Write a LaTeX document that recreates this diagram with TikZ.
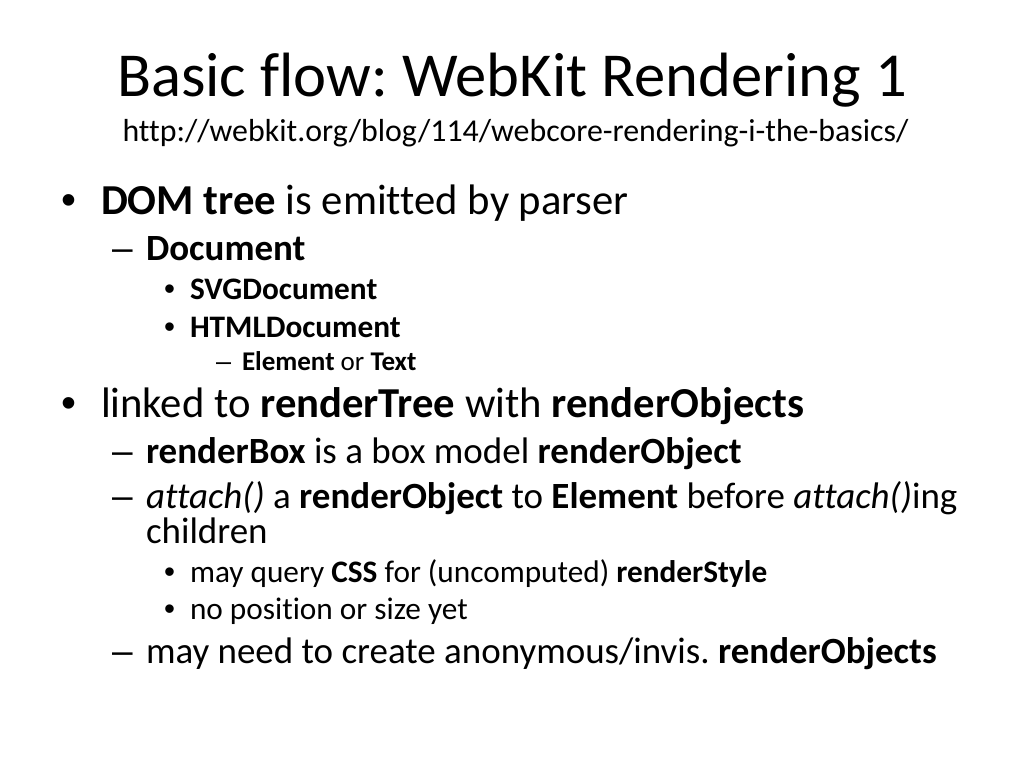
\documentclass[tikz,border=0pt]{standalone}
\usepackage{fontspec}
\setmainfont[Ligatures=NoCommon]{Carlito}
\newfontfamily\bulfont{Liberation Sans}
\begin{document}
\frenchspacing
\begin{tikzpicture}[x=0.703125pt,y=-0.703125pt,
  txt/.style={anchor=base west, inner sep=0pt, outer sep=0pt},
  ttl/.style={anchor=base, inner sep=0pt, font=\fontsize{44}{50}\selectfont},
  url/.style={anchor=base, inner sep=0pt, font=\fontsize{22.4}{26}\selectfont},
  lone/.style={txt, font=\fontsize{30}{36}\selectfont},
  ltwo/.style={txt, font=\fontsize{26}{31}\selectfont},
  lthree/.style={txt, font=\fontsize{22}{26}\selectfont},
  lfour/.style={txt, font=\fontsize{19}{23}\selectfont},
  bone/.style={txt, font=\bulfont\fontsize{30}{36}\selectfont},
  btwo/.style={txt, font=\bulfont\fontsize{26}{31}\selectfont},
  bthree/.style={txt, font=\bulfont\fontsize{22}{26}\selectfont},
  bfour/.style={txt, font=\bulfont\fontsize{19}{23}\selectfont}]
\useasboundingbox (0,0) rectangle (1024,768);
\fill[white] (0,0) rectangle (1024,768);
\node[ttl] (title) at (512,97) {Basic flow: WebKit Rendering 1};
\node[url] (link) at (515.5,142) {http://webkit.org/blog/114/webcore-rendering-i-the-basics/};
% level 1
\node[bone] (b1) at (61,215) {•};
\node[lone] (t1) at (101,215) {\textbf{DOM tree} is emitted by parser};
\node[btwo] (b2) at (112,261) {–};
\node[ltwo] (t2) at (146,261) {\textbf{Document}};
\node[bthree] (b3) at (164,299) {•};
\node[lthree] (t3) at (190,299) {\textbf{SVGDocument}};
\node[bthree] (b4) at (164,337) {•};
\node[lthree] (t4) at (190,337) {\textbf{HTMLDocument}};
\node[bfour] (b5) at (216,370) {–};
\node[lfour] (t5) at (242,370) {\textbf{Element} or \textbf{Text}};
% level 1 second
\node[bone] (b6) at (61,417) {•};
\node[lone] (t6) at (101,417) {linked to \textbf{renderTree} with \textbf{renderObjects}};
\node[btwo] (b7) at (112,463) {–};
\node[ltwo] (t7) at (146,463) {\textbf{renderBox} is a box model \textbf{renderObject}};
\node[btwo] (b8) at (112,508) {–};
\node[ltwo] (t8) at (146,508) {\textit{attach()} a \textbf{renderObject} to \textbf{Element} before \textit{attach()}ing};
\node[ltwo] (t9) at (146,543) {children};
\node[bthree] (b10) at (164,582) {•};
\node[lthree] (t10) at (190,582) {may query \textbf{CSS} for (uncomputed) \textbf{renderStyle}};
\node[bthree] (b11) at (164,619) {•};
\node[lthree] (t11) at (190,619) {no position or size yet};
\node[btwo] (b12) at (112,663) {–};
\node[ltwo] (t12) at (146,663) {may need to create anonymous/invis. \textbf{renderObjects}};
\end{tikzpicture}
\end{document}
